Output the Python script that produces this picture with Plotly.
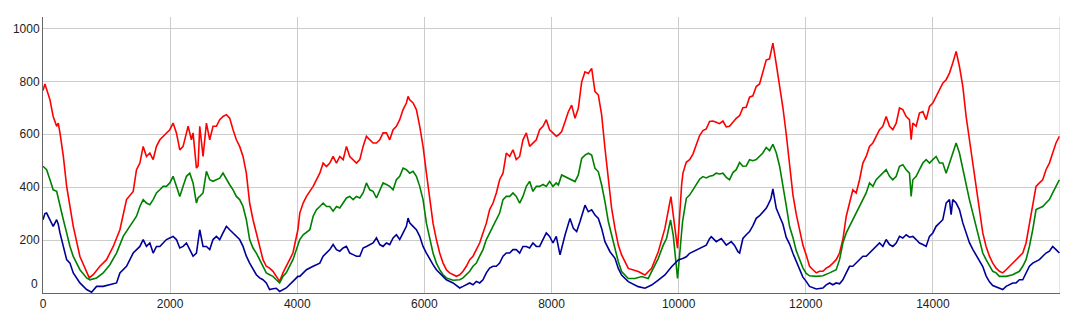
import plotly.graph_objects as go

# ---- red series ----
red_x = [0, 30, 110, 160, 215, 240, 267, 320, 372, 424, 476, 581, 686, 728, 790, 895, 1000, 1105, 1210, 1262,
         1314, 1419, 1471, 1524, 1576, 1628, 1681, 1733, 1785, 1838, 1890, 1942, 1995, 2047, 2099, 2152, 2204,
         2257, 2283, 2335, 2361, 2414, 2440, 2466, 2518, 2571, 2623, 2675, 2728, 2780, 2832, 2885, 2937, 2990,
         3042, 3094, 3147, 3199, 3251, 3304, 3356, 3408, 3461, 3513, 3565, 3618, 3670, 3723, 3775, 3827, 3932,
         4010,
         4040, 4093, 4145, 4250, 4302, 4355, 4407, 4460, 4512, 4564, 4617, 4669, 4722, 4774, 4826, 4879, 4931,
         4984, 5036, 5088, 5141, 5193, 5246, 5298, 5350, 5403, 5455, 5508, 5560, 5612, 5665, 5717, 5743, 5769,
         5822, 5874, 5927, 5979, 6032, 6084, 6136, 6189, 6241, 6294, 6346, 6398, 6451, 6503, 6556, 6608, 6660,
         6713, 6765, 6818, 6870, 6922, 6975, 7027, 7080, 7132, 7184, 7237, 7289, 7342, 7394, 7446, 7499, 7551,
         7604, 7656, 7708, 7761, 7813, 7866, 7918, 7970, 8023, 8075,
         8108, 8160, 8213, 8265, 8317, 8370, 8422, 8475, 8527, 8579, 8632, 8684, 8737, 8789, 8841, 8894, 8946,
         8999, 9051, 9103, 9208, 9365, 9470, 9575, 9680, 9784, 9837, 9879, 9942, 9983, 10047,
         10068, 10120, 10173, 10225, 10277, 10330, 10382, 10435, 10487, 10539, 10592, 10644, 10697, 10749,
         10801, 10854, 10906, 10959, 11011, 11063, 11116, 11168, 11221, 11273, 11325, 11378, 11430, 11483,
         11536, 11588, 11641, 11693, 11746, 11798, 11850, 11903, 11955, 12007,
         12060, 12113, 12165, 12217, 12270, 12322, 12375, 12427, 12479, 12532, 12584, 12637, 12689, 12741,
         12794, 12846, 12899, 12951, 13003, 13056, 13108, 13161, 13213, 13265, 13318, 13370, 13423, 13475,
         13527, 13580, 13632, 13658, 13685, 13737, 13789, 13842, 13894, 13947, 13999, 14051, 14104, 14156,
         14209, 14261, 14313, 14366, 14418, 14471, 14523, 14575, 14628, 14680, 14733, 14785, 14837, 14890,
         14942, 14995, 15047, 15099, 15152, 15204, 15256, 15309, 15361, 15414, 15466, 15519, 15571, 15623,
         15676, 15728, 15780, 15833, 15885, 15937, 15990]
red_y = [765, 790, 730, 667, 630, 642, 605, 516, 403, 327, 252, 138, 76, 57, 69, 101, 126, 176, 239, 302,
         353, 384, 466, 491, 554, 516, 529, 504, 554, 579, 592, 605, 617, 642, 605, 541, 554,
         605, 630, 579, 605, 472, 480, 630, 516, 642, 579, 630, 630, 655, 667, 674, 661, 617,
         579, 554, 516, 453, 340, 277, 227, 176, 126, 101, 94, 82, 63, 44, 76, 101, 151,
         239,
         302, 340, 365, 403, 428, 453, 491, 478, 491, 516, 491, 516, 504, 554, 516, 504, 491,
         504, 554, 592, 579, 567, 567, 579, 605, 605, 579, 617, 630, 655, 693, 718, 743, 730,
         718, 693, 630, 554, 453, 353, 264, 202, 151, 113, 88, 76, 69, 63, 69, 82, 101,
         126, 139, 164, 189, 227, 264, 315, 340, 378, 428, 453, 529, 516, 541, 504, 516, 579,
         605, 554, 567, 579, 617, 630, 655, 617, 605, 592,
         597, 610, 647, 685, 710, 660, 698, 798, 836, 830, 849, 761, 748, 673, 547, 421, 320,
         244, 181, 144, 93, 81, 68, 93, 156, 244, 320, 364, 244, 169, 408,
         453, 494, 504, 525, 563, 595, 614, 620, 648, 650, 645, 640, 650, 628,
         630, 645, 660, 670, 700, 702, 740, 745, 780, 790, 830, 880, 885, 944,
         865, 785, 700, 600, 480, 372, 298, 236, 181, 144,
         101, 88, 76, 82, 82, 94, 101, 113, 126, 151, 202, 290, 340, 390,
         378, 428, 491, 516, 554, 567, 592, 617, 630, 667, 630, 617, 642, 699,
         693, 667, 655, 579, 642, 630, 680, 686, 655, 705, 718, 743, 768, 793,
         806, 831, 869, 913, 856, 781, 667, 579, 479, 390, 302, 227, 176, 139,
         113, 94, 82, 76, 88, 101, 113, 126, 139, 151, 189, 264, 327, 403,
         416, 428, 466, 491, 529, 567, 592]

# ---- green series ----
green_x = [0, 57, 110, 160, 215, 267, 320, 372, 424, 476, 581, 686, 738, 843, 947, 1052, 1157, 1262, 1367,
           1471, 1524, 1576, 1628, 1681, 1733, 1785, 1838, 1890, 1942, 1995, 2047, 2099, 2152, 2204, 2257,
           2309, 2361, 2414, 2440, 2466, 2518, 2571, 2623, 2675, 2728, 2780, 2832, 2885, 2937, 2990, 3042,
           3094, 3147, 3199, 3251, 3304, 3356, 3408, 3461, 3513, 3565, 3618, 3670, 3723, 3775, 3827, 3932,
           4010,
           4040, 4093, 4198, 4250, 4302, 4355, 4407, 4460, 4512, 4564, 4617, 4669, 4722, 4774, 4826, 4879,
           4931, 4984, 5036, 5088, 5141, 5193, 5246, 5298, 5350, 5403, 5455, 5508, 5560, 5612, 5665, 5717,
           5769, 5822, 5874, 5927, 5979, 6032, 6084, 6136, 6189, 6241, 6294, 6346, 6451, 6556, 6608, 6660,
           6713, 6765, 6818, 6870, 6922, 6975, 7027, 7080, 7132, 7184, 7237, 7289, 7342, 7394, 7446, 7499,
           7551, 7604, 7656, 7708, 7761, 7813, 7866, 7918, 7970, 8023, 8075,
           8108, 8160, 8213, 8265, 8317, 8370, 8422, 8475, 8527, 8579, 8632, 8684, 8737, 8789, 8841, 8894,
           8946, 8999, 9051, 9103, 9208, 9313, 9418, 9522, 9575, 9680, 9758, 9810, 9873, 9915, 9983, 10062,
           10121, 10173, 10225, 10277, 10330, 10382, 10435, 10487, 10540, 10592, 10645, 10697, 10750, 10801,
           10854, 10906, 10959, 11011, 11064, 11116, 11169, 11221, 11274, 11325, 11378, 11431, 11483,
           11536, 11588, 11641, 11693, 11746, 11798, 11850, 11903, 11955, 12007,
           12060, 12165, 12270, 12375, 12479, 12532, 12584, 12637, 12689, 12741, 12794, 12846, 12899, 12951,
           13003, 13056, 13108, 13161, 13213, 13265, 13318, 13370, 13423, 13475, 13527, 13580, 13632, 13658,
           13685, 13737, 13789, 13842, 13894, 13947, 13999, 14051, 14104, 14156, 14209, 14261, 14313, 14366,
           14418, 14471, 14523, 14575, 14628, 14680, 14733, 14785, 14837, 14890, 14942, 14995, 15047, 15152,
           15256, 15361, 15414, 15466, 15519, 15571, 15623, 15676, 15728, 15780, 15833, 15885, 15937, 15990]
green_y = [479, 466, 428, 390, 384, 327, 277, 227, 176, 138, 88, 57, 50, 57, 76, 107, 151, 214, 252,
           290, 327, 353, 340, 334, 353, 378, 390, 403, 403, 416, 441, 403, 365, 403, 441,
           453, 416, 340, 360, 365, 378, 460, 428, 422, 428, 434, 453, 428, 409, 390, 365,
           353, 327, 277, 202, 170, 151, 126, 101, 76, 69, 63, 50, 38, 63, 76, 126,
           176,
           202, 220, 239, 290, 315, 327, 340, 327, 327, 309, 327, 321, 340, 359, 365, 353,
           365, 359, 378, 416, 390, 384, 359, 390, 416, 410, 403, 390, 428, 441, 472, 466,
           453, 460, 441, 403, 353, 264, 202, 151, 113, 88, 69, 57, 48, 50, 57, 69,
           82, 101, 113, 139, 164, 202, 227, 252, 277, 302, 353, 365, 365, 378, 365, 340,
           365, 403, 422, 384, 403, 403, 410, 403, 422, 403, 416,
           408, 446, 440, 433, 428, 421, 446, 509, 521, 528, 521, 471, 458, 408, 345, 270,
           219, 169, 118, 81, 55, 55, 62, 55, 81, 131, 181, 206, 276, 219, 55, 270,
           358, 370, 390, 410, 430, 440, 435, 441, 444, 453, 450, 453, 437, 428,
           455, 466, 493, 479, 480, 504, 500, 504, 518, 529, 550, 538, 562,
           530, 480, 410, 330, 250, 210, 160, 125, 95, 74,
           65, 63, 65, 76, 88, 126, 189, 227, 252, 277, 302, 327, 353, 378,
           416, 403, 428, 441, 453, 466, 441, 428, 441, 479, 485, 466, 453, 365,
           428, 441, 466, 491, 504, 491, 504, 516, 491, 491, 453, 491, 529, 567,
           529, 466, 416, 353, 302, 252, 202, 151, 126, 101, 82, 76, 63, 63,
           69, 82, 101, 126, 176, 239, 315, 321, 327, 340, 353, 378, 403, 428]

# ---- blue series ----
blue_x = [0, 30, 57, 110, 160, 215, 240, 267, 320, 372, 424, 476, 581, 686, 764, 843, 947, 1052, 1157, 1210,
          1314, 1419, 1471, 1524, 1576, 1628, 1681, 1733, 1785, 1838, 1890, 1942, 1995, 2047, 2099, 2152,
          2204, 2257, 2309, 2361, 2414, 2466, 2518, 2571, 2623, 2675, 2728, 2780, 2832, 2885, 2937, 2990,
          3042, 3094, 3147, 3199, 3251, 3304, 3356, 3408, 3461, 3513, 3565, 3618, 3670, 3723, 3775, 3827,
          3932, 4010,
          4040, 4145, 4250, 4355, 4407, 4460, 4512, 4564, 4617, 4669, 4722, 4774, 4826, 4879, 4931, 4984,
          5036, 5088, 5141, 5193, 5246, 5298, 5350, 5403, 5455, 5508, 5560, 5612, 5665, 5717, 5743, 5769,
          5822, 5874, 5927, 5979, 6032, 6084, 6136, 6189, 6241, 6294, 6346, 6451, 6556, 6608, 6660, 6713,
          6765, 6818, 6870, 6922, 6975, 7027, 7080, 7132, 7184, 7237, 7289, 7342, 7394, 7446, 7499, 7551,
          7604, 7656, 7708, 7761, 7813, 7866, 7918, 7970, 8023, 8075,
          8134, 8213, 8291, 8344, 8396, 8449, 8527, 8579, 8632, 8684, 8737, 8789, 8841, 8920, 8999, 9051,
          9103, 9208, 9365, 9470, 9575, 9680, 9784, 9889, 9994, 10073,
          10121, 10173, 10225, 10277, 10330, 10382, 10435, 10487, 10514, 10592, 10671, 10750, 10828, 10880,
          10933, 10960, 11011, 11064, 11116, 11169, 11221, 11274, 11326, 11378, 11404, 11450, 11483,
          11536, 11588, 11641, 11693, 11746, 11798, 11850, 11903, 11955, 12007,
          12060, 12165, 12270, 12322, 12375, 12427, 12479, 12532, 12584, 12637, 12689, 12741, 12794, 12846,
          12899, 12951, 13003, 13056, 13108, 13161, 13213, 13265, 13318, 13370, 13423, 13475, 13527, 13580,
          13632, 13685, 13737, 13789, 13842, 13894, 13947, 13999, 14051, 14104, 14156, 14209, 14261, 14287,
          14313, 14366, 14418, 14471, 14523, 14575, 14628, 14680, 14733, 14785, 14837, 14890, 14942, 15047,
          15099, 15152, 15204, 15256, 15309, 15361, 15414, 15466, 15519, 15571, 15623, 15676, 15728, 15780,
          15833, 15885, 15937, 15990]
blue_y = [277, 300, 302, 277, 252, 277, 260, 227, 176, 126, 113, 76, 38, 13, 3, 25, 25, 31, 38, 76,
          101, 151, 164, 176, 202, 176, 189, 151, 176, 176, 189, 202, 208, 214, 202, 170,
          176, 189, 164, 139, 151, 239, 176, 176, 164, 202, 214, 202, 227, 252, 239, 227,
          214, 202, 176, 139, 113, 88, 69, 57, 50, 38, 13, 16, 18, 6, 13, 19,
          44, 63,
          63, 88, 101, 113, 139, 151, 164, 183, 164, 158, 170, 176, 151, 145, 139, 139,
          170, 176, 183, 189, 208, 183, 176, 189, 183, 208, 220, 202, 227, 252, 283, 265,
          252, 239, 214, 176, 151, 126, 107, 88, 76, 63, 50, 38, 19, 25, 31, 38,
          31, 44, 38, 50, 76, 94, 101, 101, 113, 139, 151, 151, 164, 164, 151, 176,
          176, 170, 189, 176, 176, 202, 227, 214, 189, 214,
          144, 219, 282, 244, 232, 270, 332, 307, 314, 295, 282, 244, 194, 156, 131, 93,
          68, 43, 24, 18, 30, 49, 68, 99, 125, 131,
          137, 150, 156, 165, 169, 176, 181, 205, 213, 194, 206, 181, 194, 180,
          156, 151, 206, 220, 232, 255, 282, 292, 307, 320, 332, 355, 393,
          320, 290, 260, 210, 185, 150, 120, 95, 60, 44,
          25, 15, 19, 31, 38, 31, 38, 35, 50, 76, 101, 101, 113, 126,
          139, 139, 151, 164, 176, 189, 176, 202, 183, 176, 189, 214, 208, 220,
          211, 214, 202, 189, 183, 176, 214, 227, 252, 264, 277, 340, 353, 296,
          353, 340, 315, 265, 225, 190, 165, 145, 125, 100, 65, 42, 28, 18,
          13, 25, 31, 38, 38, 50, 50, 76, 101, 113, 120, 126, 139, 151,
          158, 176, 164, 151]

x_ticks = [0, 2000, 4000, 6000, 8000, 10000, 12000, 14000]
x_tick_labels = ["0", "2000", "4000", "6000", "8000", "10000", "12000", "14000"]
y_ticks = [200, 400, 600, 800, 1000]
y_tick_labels = ["200", "400", "600", "800", "1000"]

font = dict(family="Liberation Sans, Arial, sans-serif", size=12, color="#222222")

fig = go.Figure()
fig.add_trace(go.Scatter(x=red_x, y=red_y, mode="lines", line=dict(color="#ff0000", width=1.6)))
fig.add_trace(go.Scatter(x=green_x, y=green_y, mode="lines", line=dict(color="#008000", width=1.6)))
fig.add_trace(go.Scatter(x=blue_x, y=blue_y, mode="lines", line=dict(color="#000099", width=1.6)))

fig.update_layout(
    width=1085, height=332,
    margin=dict(l=43, r=25, t=17, b=39),
    plot_bgcolor="white", paper_bgcolor="white",
    showlegend=False,
    font=font,
    xaxis=dict(range=[0, 16000], tickvals=x_ticks, ticktext=x_tick_labels, showgrid=True,
               gridcolor="#cccccc", gridwidth=1,
               zeroline=False, showline=True, linecolor="#666666", linewidth=1, ticks="",
               tickfont=font),
    yaxis=dict(range=[0, 1043], tickvals=y_ticks, ticktext=y_tick_labels, showgrid=True,
               gridcolor="#cccccc", gridwidth=1,
               zeroline=False, showline=True, linecolor="#666666", linewidth=1, ticks="",
               tickfont=font),
    shapes=[dict(type="line", xref="x", yref="paper", x0=16000, x1=16000, y0=0, y1=1,
                 line=dict(color="#cccccc", width=1), layer="below")],
    annotations=[dict(text="0", xref="paper", yref="y", x=0, y=0, xanchor="right", yanchor="bottom",
                      xshift=-3, showarrow=False, font=font)],
)

fig.write_html("out.html")
